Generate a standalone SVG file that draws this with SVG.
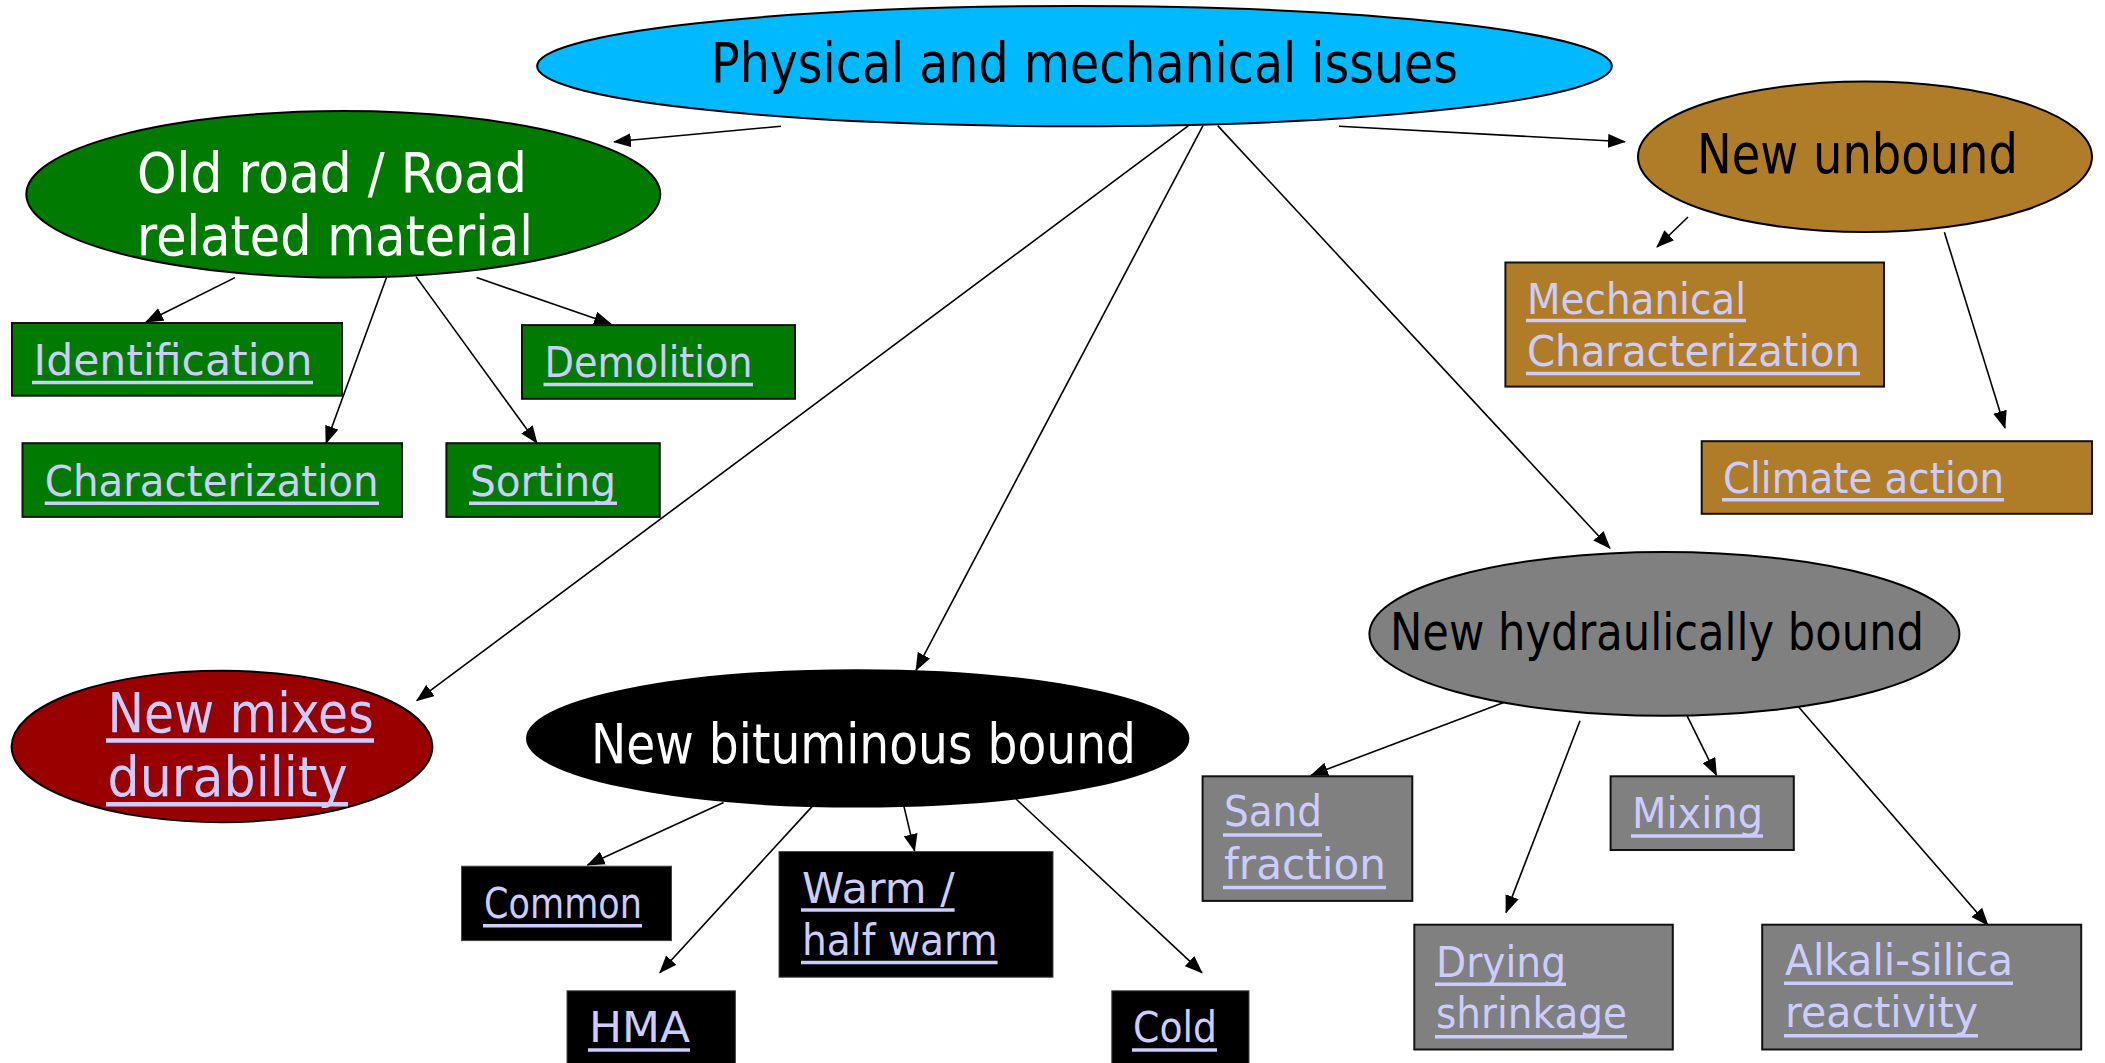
<svg xmlns="http://www.w3.org/2000/svg" width="2105" height="1063" viewBox="0 0 2105 1063">
<style>
.el{stroke:#000;stroke-width:2}
.bx{stroke:#111;stroke-width:2}
.bk{fill:#000;stroke:#444;stroke-width:1}
.t{font-family:"DejaVu Sans","Liberation Sans",sans-serif}
.big{font-size:55px}
.sm{font-size:43px;fill:#CCCCFF}
.ul{stroke:#CCCCFF;stroke-width:3.5}
.ulb{stroke:#CCCCFF;stroke-width:4.5}
.cn line{stroke:#000;stroke-width:1.6;marker-end:url(#ah)}
</style>
<defs>
<marker id="ah" markerWidth="18" markerHeight="14" refX="17" refY="7" orient="auto" markerUnits="userSpaceOnUse"><path d="M0,0 L18,7 L0,14 z" fill="#000"/></marker>
</defs>
<rect width="2105" height="1063" fill="#fff"/>

<g id="connectors" class="cn">
<line x1="781" y1="126.2" x2="614" y2="141.8"/>
<line x1="1339" y1="126.2" x2="1625" y2="141.8"/>
<line x1="1188.5" y1="125.6" x2="416.8" y2="700.6"/>
<line x1="1203" y1="125.6" x2="916" y2="670.3"/>
<line x1="1217.7" y1="125.6" x2="1610" y2="548.2"/>
<line x1="235" y1="277.6" x2="146" y2="322"/>
<line x1="386.5" y1="277.6" x2="326" y2="443.2"/>
<line x1="416" y1="276.6" x2="537" y2="443.2"/>
<line x1="476.6" y1="277.6" x2="611" y2="324"/>
<line x1="1688" y1="217" x2="1657" y2="247"/>
<line x1="1944.4" y1="232.2" x2="2005" y2="428"/>
<line x1="723.6" y1="802.6" x2="587.5" y2="865.1"/>
<line x1="812" y1="806.6" x2="659.8" y2="972.7"/>
<line x1="904" y1="806.6" x2="914.6" y2="851.1"/>
<line x1="1016" y1="799" x2="1202" y2="972.7"/>
<line x1="1504.4" y1="702.3" x2="1311" y2="775.3"/>
<line x1="1580" y1="720.8" x2="1506" y2="912.6"/>
<line x1="1687" y1="715.7" x2="1716.5" y2="775.3"/>
<line x1="1793" y1="700.6" x2="1988" y2="925.2"/>
</g>

<g id="n-physical">
<ellipse class="el" cx="1074.5" cy="66.1" rx="537.4" ry="60.1" fill="#00B9FF"/>
<text class="t big" x="711" y="81.8" textLength="747" lengthAdjust="spacingAndGlyphs" fill="#000">Physical and mechanical issues</text>
</g>

<g id="n-oldroad">
<ellipse class="el" cx="343.3" cy="194.3" rx="317" ry="83.3" fill="#007A00"/>
<text class="t big" x="137" y="191.8" textLength="390" lengthAdjust="spacingAndGlyphs" fill="#fff">Old road / Road</text>
<text class="t big" x="137" y="255.4" textLength="396" lengthAdjust="spacingAndGlyphs" fill="#fff">related material</text>
</g>

<g id="n-unbound">
<ellipse class="el" cx="1865" cy="156.8" rx="227" ry="75.3" fill="#AF7D27"/>
<text class="t big" x="1697" y="172.6" textLength="321" lengthAdjust="spacingAndGlyphs" fill="#000">New unbound</text>
</g>

<g id="n-mixes">
<ellipse class="el" cx="222" cy="746.5" rx="210.4" ry="75.7" fill="#990000"/>
<text class="t big" x="107.6" y="731.9" textLength="266" lengthAdjust="spacingAndGlyphs" fill="#CCCCFF">New mixes</text>
<line class="ulb" x1="106" y1="740.4" x2="374" y2="740.4"/>
<text class="t big" x="107.6" y="795.5" textLength="240" lengthAdjust="spacingAndGlyphs" fill="#CCCCFF">durability</text>
<line class="ulb" x1="106" y1="804.2" x2="348" y2="804.2"/>
</g>

<g id="n-bituminous">
<ellipse class="el" cx="857.7" cy="738.4" rx="330.7" ry="68.2" fill="#000"/>
<text class="t big" x="591" y="762.7" textLength="545" lengthAdjust="spacingAndGlyphs" fill="#fff">New bituminous bound</text>
</g>

<g id="n-hydraulic">
<ellipse class="el" cx="1664.4" cy="633.9" rx="295" ry="81.9" fill="#808080"/>
<text class="t" font-size="51" x="1390" y="649.7" textLength="534" lengthAdjust="spacingAndGlyphs" fill="#000">New hydraulically bound</text>
</g>

<g id="n-identification">
<rect class="bx" x="12" y="323" width="330" height="72.7" fill="#007A00"/>
<text class="t sm" x="33.6" y="374.9" textLength="279" lengthAdjust="spacingAndGlyphs">Identification</text>
<line class="ul" x1="32" y1="382.6" x2="313" y2="382.6"/>
</g>

<g id="n-characterization">
<rect class="bx" x="22.5" y="443.2" width="379.5" height="73.7" fill="#007A00"/>
<text class="t sm" x="44.7" y="495.7" textLength="334" lengthAdjust="spacingAndGlyphs">Characterization</text>
<line class="ul" x1="44.7" y1="503.2" x2="379" y2="503.2"/>
</g>

<g id="n-sorting">
<rect class="bx" x="446.4" y="443.2" width="213.4" height="73.7" fill="#007A00"/>
<text class="t sm" x="470" y="495.7" textLength="146" lengthAdjust="spacingAndGlyphs">Sorting</text>
<line class="ul" x1="469" y1="503.2" x2="617" y2="503.2"/>
</g>

<g id="n-demolition">
<rect class="bx" x="522" y="325.1" width="273" height="73.7" fill="#007A00"/>
<text class="t sm" x="544.5" y="376.5" textLength="208" lengthAdjust="spacingAndGlyphs">Demolition</text>
<line class="ul" x1="543.5" y1="384.6" x2="753" y2="384.6"/>
</g>

<g id="n-mechchar">
<rect class="bx" x="1505.4" y="262.5" width="378.6" height="124.1" fill="#AF7D27"/>
<text class="t sm" x="1527" y="314" textLength="219" lengthAdjust="spacingAndGlyphs">Mechanical</text>
<line class="ul" x1="1526" y1="320.6" x2="1746" y2="320.6"/>
<text class="t sm" x="1527" y="366.4" textLength="333" lengthAdjust="spacingAndGlyphs">Characterization</text>
<line class="ul" x1="1526" y1="373.5" x2="1860" y2="373.5"/>
</g>

<g id="n-climate">
<rect class="bx" x="1701.7" y="441.2" width="390.3" height="72.6" fill="#AF7D27"/>
<text class="t sm" x="1723" y="492.6" textLength="281" lengthAdjust="spacingAndGlyphs">Climate action</text>
<line class="ul" x1="1722" y1="499.7" x2="2004" y2="499.7"/>
</g>

<g id="n-common">
<rect class="bk" x="461.5" y="866.2" width="210" height="74.4"/>
<text class="t sm" x="484" y="917.6" textLength="158" lengthAdjust="spacingAndGlyphs">Common</text>
<line class="ul" x1="483" y1="925.7" x2="642" y2="925.7"/>
</g>

<g id="n-warm">
<rect class="bk" x="779" y="851.6" width="274" height="125.6"/>
<text class="t sm" x="802" y="902.5" textLength="152.6" lengthAdjust="spacingAndGlyphs">Warm /</text>
<line class="ul" x1="801" y1="910.1" x2="954.6" y2="910.1"/>
<text class="t sm" x="802" y="955" textLength="195.6" lengthAdjust="spacingAndGlyphs">half warm</text>
<line class="ul" x1="801" y1="962.4" x2="997.6" y2="962.4"/>
</g>

<g id="n-hma">
<rect class="bk" x="567" y="990.8" width="168.4" height="80"/>
<text class="t sm" x="589" y="1041.8" textLength="101" lengthAdjust="spacingAndGlyphs">HMA</text>
<line class="ul" x1="588" y1="1049.9" x2="690" y2="1049.9"/>
</g>

<g id="n-cold">
<rect class="bk" x="1111.8" y="990.8" width="137.2" height="80"/>
<text class="t sm" x="1133" y="1041.8" textLength="84" lengthAdjust="spacingAndGlyphs">Cold</text>
<line class="ul" x1="1132" y1="1049.9" x2="1217" y2="1049.9"/>
</g>

<g id="n-sand">
<rect class="bx" x="1202.6" y="776.3" width="209.7" height="124.6" fill="#808080"/>
<text class="t sm" x="1224" y="826.3" textLength="98" lengthAdjust="spacingAndGlyphs">Sand</text>
<line class="ul" x1="1223" y1="834.9" x2="1322" y2="834.9"/>
<text class="t sm" x="1224" y="878.8" textLength="162" lengthAdjust="spacingAndGlyphs">fraction</text>
<line class="ul" x1="1223" y1="887.4" x2="1386" y2="887.4"/>
</g>

<g id="n-mixing">
<rect class="bx" x="1610.6" y="776.3" width="183.2" height="73.7" fill="#808080"/>
<text class="t sm" x="1632" y="827.8" textLength="131" lengthAdjust="spacingAndGlyphs">Mixing</text>
<line class="ul" x1="1631" y1="835.9" x2="1763" y2="835.9"/>
</g>

<g id="n-drying">
<rect class="bx" x="1414.3" y="924.7" width="258.5" height="124.8" fill="#808080"/>
<text class="t sm" x="1436" y="977.2" textLength="130" lengthAdjust="spacingAndGlyphs">Drying</text>
<line class="ul" x1="1435" y1="984.2" x2="1566" y2="984.2"/>
<text class="t sm" x="1436" y="1028.1" textLength="191" lengthAdjust="spacingAndGlyphs">shrinkage</text>
<line class="ul" x1="1435" y1="1036.8" x2="1627" y2="1036.8"/>
</g>

<g id="n-alkali">
<rect class="bx" x="1762.2" y="924.7" width="319" height="124.8" fill="#808080"/>
<text class="t sm" x="1785" y="975.2" textLength="228" lengthAdjust="spacingAndGlyphs">Alkali-silica</text>
<line class="ul" x1="1784" y1="983.2" x2="2013" y2="983.2"/>
<text class="t sm" x="1785" y="1026.7" textLength="193" lengthAdjust="spacingAndGlyphs">reactivity</text>
<line class="ul" x1="1784" y1="1035.8" x2="1978" y2="1035.8"/>
</g>
</svg>
